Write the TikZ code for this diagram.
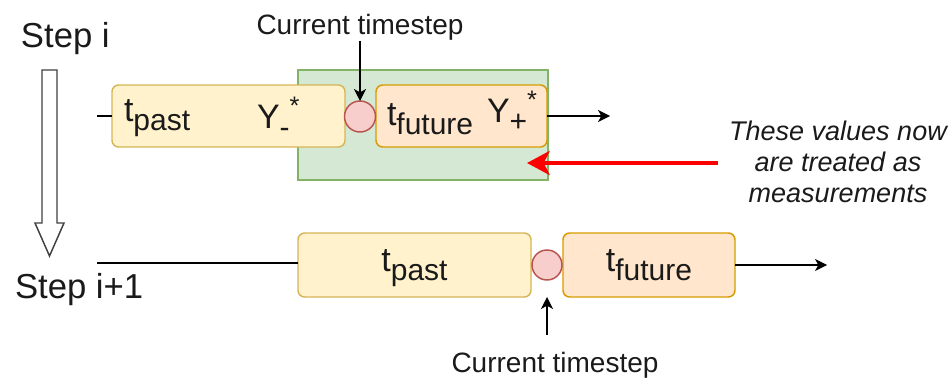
\documentclass[tikz,border=0pt]{standalone}
\usepackage{fontspec}
\setmainfont{Liberation Sans}
\usetikzlibrary{arrows.meta,calc}

\definecolor{pastfill}{HTML}{FFF2CC}
\definecolor{paststroke}{HTML}{D6B656}
\definecolor{futfill}{HTML}{FFE6CC}
\definecolor{futstroke}{HTML}{D79B00}
\definecolor{winfill}{HTML}{D5E8D4}
\definecolor{winstroke}{HTML}{82B366}
\definecolor{nowfill}{HTML}{F8CECC}
\definecolor{nowstroke}{HTML}{B85450}
\definecolor{inkgray}{HTML}{1A1A1A}
\definecolor{hollowgray}{HTML}{404040}
\definecolor{alertred}{HTML}{FF0000}

% text sizes
\newcommand\stepfont{\fontsize{26}{30}\selectfont}
\newcommand\curfont{\fontsize{21}{25}\selectfont}
\newcommand\boxfont{\fontsize{25.5}{30}\selectfont}
\newcommand\notefont{\fontsize{20.25}{23.25}\selectfont\itshape}
% lowered / raised pieces of the box labels
\newcommand\lowered[1]{\raisebox{-6.75pt}{\fontsize{22.5}{26}\selectfont #1}}
\newcommand\raised[1]{\raisebox{10pt}{\fontsize{19}{22}\selectfont #1}}

\begin{document}
\begin{tikzpicture}[x=0.75pt,y=-0.75pt,
  every node/.style={inner sep=0pt, outer sep=0pt, text=inkgray},
  pastbox/.style={draw=paststroke, fill=pastfill, line width=1.1pt,
    rounded corners=5pt, minimum height=46.5pt},
  futbox/.style={draw=futstroke, fill=futfill, line width=1.1pt,
    rounded corners=5pt, minimum height=46.5pt},
  nowdot/.style={circle, draw=nowstroke, fill=nowfill, line width=1.1pt},
  boxtext/.style={font=\boxfont},
  conn/.style={draw=black, line width=0.9pt},
  arrowconn/.style={conn, -{Stealth[length=9pt,width=9pt,inset=2.5pt]}},
]
\useasboundingbox (0,0) rectangle (952,385);

% window of values reused as measurements
\node[draw=winstroke, fill=winfill, line width=1pt,
      minimum width=187.5pt, minimum height=82.5pt] (win) at (423,125) {};

% hollow arrow from step i to step i+1
\draw[draw=hollowgray, fill=white, line width=1.1pt, line join=miter]
  (42,70) -- (57,70) -- (57,223) -- (64,223) -- (49.5,256) -- (35,223)
  -- (42,223) -- cycle;

% step labels
\node[font=\stepfont, anchor=base west] (stepi) at (21,48) {Step i};
\node[font=\stepfont, anchor=base west] (stepj) at (15,298) {Step i+1};

% ---- step i row ----
\node[pastbox, minimum width=174.75pt] (past1) at (228.5,116) {};
\node[futbox, minimum width=128.25pt] (fut1) at (461.5,116) {};
\node[nowdot, minimum size=23.25pt] (now1) at (360,116.5) {};

\node[boxtext, anchor=base west] (tp1) at (124,121) {t\lowered{past}};
\node[boxtext, anchor=base west] (ym1) at (257,128) {Y\lowered{-}\raised{*}};
\node[boxtext, anchor=base west] (tf1) at (387,125) {t\lowered{future}};
\node[boxtext, anchor=base west] (yp1) at (487,122) {Y\lowered{+}\raised{*}};

\node[font=\curfont, anchor=base] (cur1) at (360,35) {Current timestep};

\coordinate (in1) at (97,116);
\coordinate (out1) at (610,116);
\draw[conn] (in1) -- (past1.west);
\draw[arrowconn] (fut1.east) -- (out1);
\draw[arrowconn] (cur1.south) -- (now1.north);

% ---- step i+1 row ----
\node[pastbox, minimum width=174.75pt, minimum height=48pt] (past2) at (414.5,265) {};
\node[futbox, minimum width=129pt, minimum height=48pt] (fut2) at (649,265) {};
\node[nowdot, minimum size=22.5pt] (now2) at (547,265) {};

\node[boxtext, anchor=base] (tp2) at (414.5,271) {t\lowered{past}};
\node[boxtext, anchor=base] (tf2) at (649,271) {t\lowered{future}};

\node[font=\curfont, anchor=base] (cur2) at (555,372) {Current timestep};

\coordinate (in2) at (97,263);
\coordinate (out2) at (827,265);
\coordinate (tail2) at (547,335);
\draw[conn] (in2) -- (in2 -| past2.west);
\draw[arrowconn] (fut2.east) -- (out2);
\draw[arrowconn] (tail2) -- (now2 |- past2.south);

% ---- note on the reused values ----
\node[font=\notefont, align=center, anchor=north] (note) at (838,121)
  {These values now\\are treated as\\measurements};
\coordinate (redtail) at (718,163);
\coordinate (redtip) at (527,163);
\draw[draw=alertred, line width=3pt,
  -{Stealth[length=17pt,width=18pt,inset=4.5pt]}] (redtail) -- (redtip);
\end{tikzpicture}
\end{document}
